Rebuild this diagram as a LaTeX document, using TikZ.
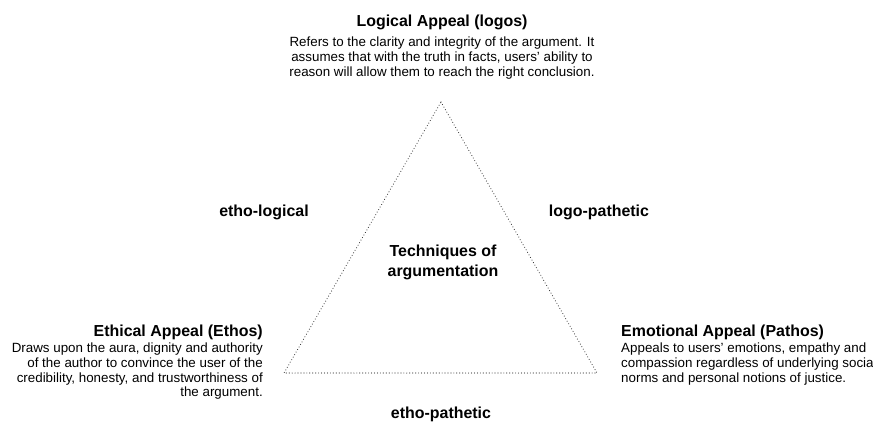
\documentclass[tikz,border=0pt]{standalone}
\usepackage{fontspec}
\setmainfont{Liberation Sans}
\usepackage{tikz}
\tikzset{
  appealtitle/.style={font=\fontsize{13.6}{16}\selectfont\bfseries, inner sep=0pt},
  appealtext/.style={font=\fontsize{11.4}{12.5}\selectfont, inner sep=0pt},
  blendlabel/.style={font=\fontsize{13.6}{16.5}\selectfont\bfseries, inner sep=0pt},
  dotline/.style={draw=black!75, line width=1pt, dash pattern=on 0.01pt off 2.5pt, line cap=round},
}

\begin{document}
\begin{tikzpicture}[x=0.03cm, y=-0.03cm]
\useasboundingbox (0,0) rectangle (873,424);
% corners of the triangle
\coordinate (logos) at (441,102);
\coordinate (ethos) at (284,373);
\coordinate (pathos) at (597,373);
\draw[dotline] (logos) -- (pathos) -- (ethos) -- cycle;
% centre
\node[blendlabel, anchor=north, align=center] (center) at (443,245) {Techniques of\\argumentation};
% the three appeals
\node[appealtitle, anchor=base] (logostitle) at (442,27) {Logical Appeal (logos)};
\node[appealtext, anchor=north, align=center] (logostext) at (442,37)
  {Refers to the clarity and integrity of the argument. It\\
   assumes that with the truth in facts, users' ability to\\
   reason will allow them to reach the right conclusion.};
\node[appealtitle, anchor=base east] (ethostitle) at (263,336) {Ethical Appeal (Ethos)};
\node[appealtext, anchor=north east, align=right] (ethostext) at (263,343)
  {Draws upon the aura, dignity and authority\\
   of the author to convince the user of the\\
   credibility, honesty, and trustworthiness of\\
   the argument.};
\node[appealtitle, anchor=base west] (pathostitle) at (621,336) {Emotional Appeal (Pathos)};
\node[appealtext, anchor=north west, align=left] (pathostext) at (621,343)
  {Appeals to users' emotions, empathy and\\
   compassion regardless of underlying social\\
   norms and personal notions of justice.};
% the mixed techniques
\node[blendlabel, anchor=base] (etholog) at (264,216) {etho-logical};
\node[blendlabel, anchor=base] (logopath) at (599,216) {logo-pathetic};
\node[blendlabel, anchor=base] (ethopath) at (441,418) {etho-pathetic};
\end{tikzpicture}
\end{document}
